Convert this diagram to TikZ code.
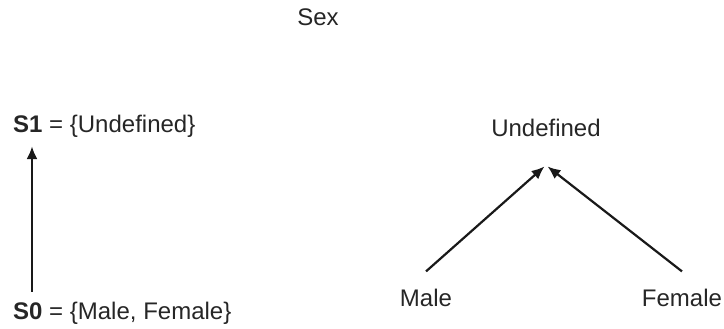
\documentclass[tikz,border=0pt]{standalone}
\usepackage{fontspec}
\setmainfont{Liberation Sans}
\usepackage{tikz}
\usetikzlibrary{arrows.meta,positioning}

\begin{document}
\begin{tikzpicture}[
    x=1pt, y=-1pt,
    label/.style={inner sep=0pt, font=\fontsize{24}{28}\selectfont, text=black!85},
    arrow/.style={-{Latex[length=13pt,width=11pt]}, line width=2.2pt, black!90}
    ]
    \useasboundingbox (0,0) rectangle (724,329);
    \node[label, anchor=base] (Sex) at (318,26) {Sex};
    \node[label, anchor=base west] (S1) at (13,132) {\textbf{S1} = \{Undefined\}};
    \node[label, anchor=base west] (S0) at (13,319) {\textbf{S0} = \{Male, Female\}};
    \node[label, anchor=base] (Undefined) at (546,137) {Undefined};
    \node[label, anchor=base] (Male) at (426,306) {Male};
    \node[label, anchor=base] (Female) at (682,306) {Female};
    \draw[arrow] ([xshift=19pt, yshift=9.5pt]S0.north west) -- ([xshift=19pt, yshift=-9pt]S1.south west);
    \draw[arrow] ([yshift=17pt]Male.north) -- ([xshift=-1.5pt, yshift=-29pt]Undefined.south);
    \draw[arrow] ([yshift=17pt]Female.north) -- ([xshift=1.5pt, yshift=-29pt]Undefined.south);
  \end{tikzpicture}
\end{document}
